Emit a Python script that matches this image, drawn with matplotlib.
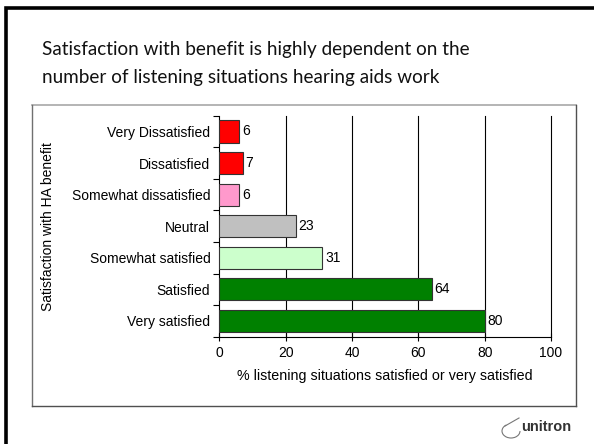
import matplotlib.pyplot as plt
from matplotlib.patches import Rectangle, Arc

categories = ["Very Dissatisfied", "Dissatisfied", "Somewhat dissatisfied", "Neutral",
              "Somewhat satisfied", "Satisfied", "Very satisfied"]
values = [6, 7, 6, 23, 31, 64, 80]
colors = ["#ff0000", "#ff0000", "#ff99cc", "#c0c0c0", "#ccffcc", "#008000", "#008000"]
xticks = [0, 20, 40, 60, 80, 100]

W, H = 594, 444
fig = plt.figure(figsize=(W / 100, H / 100), dpi=100)

def fx(px):
    return px / W

def fy(py):
    return 1 - py / H

# slide frame (cut off at the right and bottom)
fig.patches.append(Rectangle((fx(6), fy(460)), fx(620), fy(8) - fy(460),
                             transform=fig.transFigure, fill=False, lw=2.6, ec="black"))

title_lines = ["Satisfaction with benefit is highly dependent on the",
               "number of listening situations hearing aids work"]
for i, line in enumerate(title_lines):
    fig.text(fx(42), fy(49 + 29 * i), line, family="Lato", fontsize=13.6,
             va="center", ha="left", color="#111111")

# chart box with shaded edges
fig.add_artist(plt.Line2D([fx(31.5), fx(575.5)], [fy(105.5), fy(105.5)], color="#a8a8a8", lw=1.2))
fig.add_artist(plt.Line2D([fx(31.5), fx(31.5)], [fy(105.5), fy(406)], color="#707070", lw=1.0))
fig.add_artist(plt.Line2D([fx(575.5), fx(575.5)], [fy(105.5), fy(406)], color="#505050", lw=1.0))
fig.add_artist(plt.Line2D([fx(31.5), fx(575.5)], [fy(406), fy(406)], color="#505050", lw=1.0))

ax = fig.add_axes([fx(219.3), fy(336.7), fx(551 - 219.3), fy(115.7) - fy(336.7)])
pos = list(range(len(categories)))
ax.barh(pos, values, height=0.7, color=colors, edgecolor="#333333", linewidth=0.8, zorder=3)
for p, v in zip(pos, values):
    ax.text(v + 0.9, p, str(v), va="center", ha="left", family="Liberation Sans",
            fontsize=10, color="black", zorder=4)

ax.set_xlim(0, 100)
ax.set_ylim(len(categories) - 0.5, -0.5)
for t in xticks[1:]:
    ax.axvline(t, color="black", lw=0.8, zorder=1, clip_on=False)
ax.set_xticks(xticks)
ax.set_xticklabels([str(t) for t in xticks], family="Liberation Sans", fontsize=10)
ax.set_yticks(pos)
ax.set_yticklabels(categories, family="Liberation Sans", fontsize=10)
ax.set_yticks([i - 0.5 for i in range(len(categories) + 1)], minor=True)
ax.tick_params(axis="y", which="major", length=0, pad=6.5)
ax.tick_params(axis="y", which="minor", length=4, width=0.8, direction="out")
ax.tick_params(axis="x", length=6, width=0.8, direction="inout", pad=4)
for s in ["top", "right"]:
    ax.spines[s].set_visible(False)
ax.spines["left"].set_linewidth(0.8)
ax.spines["bottom"].set_linewidth(0.8)
ax.set_xlabel("% listening situations satisfied or very satisfied",
              family="Liberation Sans", fontsize=10.3, labelpad=6)
ax.set_ylabel("Satisfaction with HA benefit", family="Liberation Sans", fontsize=10)
ax.yaxis.set_label_coords((55 - 219.3) / (551 - 219.3), 0.5)

# company logo
fig.text(fx(521), fy(427), "unitron", family="Liberation Sans", fontweight="bold",
         fontsize=10.5, color="#333333", ha="left", va="center")
fig.add_artist(Arc((fx(511), fy(431)), fx(18), fy(424) - fy(438), theta1=120, theta2=360,
                   transform=fig.transFigure, color="#777777", lw=0.8))
fig.add_artist(plt.Line2D([fx(505), fx(519)], [fy(426), fy(418)], color="#777777", lw=0.8))

fig.savefig("out.png", dpi=100)
